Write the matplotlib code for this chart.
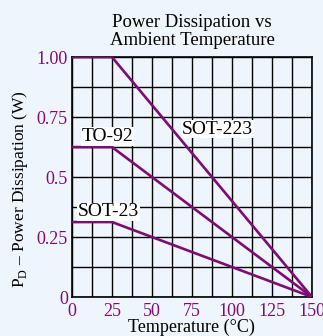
import matplotlib
matplotlib.use('Agg')
import matplotlib.pyplot as plt

plt.rcParams['font.family'] = 'Liberation Serif'
plt.rcParams['mathtext.fontset'] = 'custom'
plt.rcParams['mathtext.rm'] = 'Liberation Serif'

# derating curves: flat up to 25 C, then linear down to 0 at 150 C
temps = [0, 25, 150]
sot223 = [1.0, 1.0, 0.0]
to92 = [0.625, 0.625, 0.0]
sot23 = [0.3125, 0.3125, 0.0]

xticks = [0, 25, 50, 75, 100, 125, 150]
yticks = [0, 0.25, 0.5, 0.75, 1.0]
ylabels = ['0', '0.25', '0.5', '0.75', '1.00']

bg = '#eef5fc'
purple = '#7d0c74'

fig = plt.figure(figsize=(3.23, 3.36), dpi=100, facecolor=bg)
ax = fig.add_axes([0.223, 0.116, 0.743, 0.714])
ax.set_facecolor(bg)

for ys in (sot223, to92, sot23):
    ax.plot(temps, ys, color=purple, lw=1.9, solid_capstyle='butt', zorder=3)

ax.set_xlim(0, 150)
ax.set_ylim(0, 1.0)
ax.set_xticks([i * 12.5 for i in range(13)], minor=True)
ax.set_yticks([i * 0.125 for i in range(9)], minor=True)
ax.set_xticks(xticks)
ax.set_xticklabels([str(t) for t in xticks])
ax.set_yticks(yticks)
ax.set_yticklabels(ylabels)
ax.grid(True, which='both', color='black', lw=1.0)
ax.tick_params(which='both', length=0, labelsize=13, labelcolor=purple, pad=3)
ax.tick_params(axis='x', pad=4.5)
for s in ax.spines.values():
    s.set_linewidth(1.2)

box = dict(facecolor='white', edgecolor='none', pad=0.5)
ax.text(22, 0.67, 'TO-92', fontsize=14, ha='center', va='center', bbox=box, zorder=4)
ax.text(91, 0.70, 'SOT-223', fontsize=14, ha='center', va='center', bbox=box, zorder=4)
ax.text(23, 0.355, 'SOT-23', fontsize=14, ha='center', va='center', bbox=box, zorder=4)

ax.set_title('Power Dissipation vs\nAmbient Temperature', fontsize=13.5,
             linespacing=1.05, pad=9)
fig.text(0.594, 0.012, 'Temperature (°C)', fontsize=13, ha='center', va='baseline')
ax.set_ylabel('P$_\\mathrm{D}$ – Power Dissipation (W)', fontsize=12.5)
ax.yaxis.set_label_coords(-0.175, 0.45)

fig.savefig('out.png', dpi=100, facecolor=bg)
